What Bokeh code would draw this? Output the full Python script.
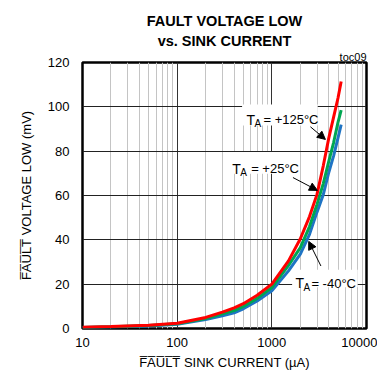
from bokeh.plotting import figure
from bokeh.models import Range1d, FixedTicker, Label, BoxAnnotation, Arrow, NormalHead, Title
from bokeh.embed import file_html
from bokeh.resources import INLINE

# sink current (uA)
current = [10, 20, 50, 100, 200, 300, 400, 500, 700, 1000, 1500, 2000, 2500, 3000, 3500, 4000, 4500, 5000, 5400]
# fault voltage low (mV)
v_125 = [0.6, 0.9, 1.5, 2.4, 5.0, 7.4, 9.3, 11.2, 15.0, 20.0, 30.5, 40.5, 50.5, 60.5, 73.5, 86.0, 95.5, 104.0, 111.4]
v_25 = [0.5, 0.8, 1.3, 2.1, 4.5, 6.6, 8.1, 10.0, 13.6, 18.5, 28.5, 36.5, 46.0, 56.0, 65.5, 75.5, 84.0, 93.0, 98.5]
v_m40 = [0.4, 0.7, 1.1, 1.9, 4.0, 5.7, 7.1, 8.9, 12.4, 17.0, 26.0, 33.5, 42.5, 52.5, 60.5, 70.5, 78.0, 86.0, 92.0]

y_ticks = [0, 20, 40, 60, 80, 100, 120]
x_ticks = [10, 100, 1000, 10000]
x_minor = [m * d for d in [10, 100, 1000] for m in range(2, 10)]

FONT = "Liberation Sans"
OL = "\u0305"
fault = "".join(c + OL for c in "FAULT")

p = figure(width=377, height=375, x_axis_type="log",
           x_range=Range1d(10, 10000), y_range=Range1d(0, 120),
           output_backend="svg", toolbar_location=None,
           min_border_left=82, min_border_right=11, min_border_top=62, min_border_bottom=47)
p.background_fill_color = "white"
p.border_fill_color = "white"
p.outline_line_color = "black"
p.outline_line_width = 2.5

# titles, stacked outward from the frame
p.add_layout(Title(text="toc09", align="right", text_font=FONT, text_font_size="11px",
                   text_font_style="normal", text_color="black", standoff=0), "above")
p.add_layout(Title(text="vs. SINK CURRENT", align="center", offset=6, text_font=FONT,
                   text_font_size="14.5px", text_font_style="bold", text_color="black",
                   standoff=0), "above")
p.add_layout(Title(text="FAULT VOLTAGE LOW", align="center", offset=6, text_font=FONT,
                   text_font_size="14.5px", text_font_style="bold", text_color="black",
                   standoff=4), "above")

p.xaxis.ticker = FixedTicker(ticks=x_ticks, minor_ticks=x_minor)
p.yaxis.ticker = FixedTicker(ticks=y_ticks)
p.xaxis.major_label_overrides = {10: "10", 100: "100", 1000: "1000", 10000: "10000"}

for ax in (p.xaxis, p.yaxis):
    ax.axis_line_color = None
    ax.major_tick_line_color = None
    ax.minor_tick_line_color = None
    ax.major_tick_out = 0
    ax.major_tick_in = 0
    ax.minor_tick_out = 0
    ax.minor_tick_in = 0
    ax.major_label_text_font = FONT
    ax.major_label_text_font_size = "13px"
    ax.major_label_text_color = "black"
    ax.axis_label_text_font = FONT
    ax.axis_label_text_font_size = "13px"
    ax.axis_label_text_font_style = "normal"
    ax.axis_label_text_color = "black"
p.xaxis.axis_label = fault + " SINK CURRENT (\u00b5A)"
p.yaxis.axis_label = fault + " VOLTAGE LOW (mV)"
p.xaxis.major_label_standoff = 9
p.xaxis.axis_label_standoff = 5
p.yaxis.major_label_standoff = 13
p.yaxis.axis_label_standoff = 11

p.xgrid.grid_line_color = "#333333"
p.xgrid.grid_line_width = 1
p.xgrid.minor_grid_line_color = "#c4c4c4"
p.xgrid.minor_grid_line_width = 1
p.ygrid.grid_line_color = "#222222"
p.ygrid.grid_line_width = 1

p.line(current, v_m40, line_color="#1f74c4", line_width=3)
p.line(current, v_25, line_color="#00a651", line_width=3)
p.line(current, v_125, line_color="#ff0000", line_width=3)

# label boxes
for l, r, b, t in [(485, 3052, 91.6, 101.1), (346, 1956, 69.8, 79.6), (1638, 8072, 18.6, 26.5)]:
    p.add_layout(BoxAnnotation(left=l, right=r, bottom=b, top=t, fill_color="white",
                               fill_alpha=1, line_color=None))

def temp_label(x, y, rest, eq_off):
    p.add_layout(Label(x=x, y=y, text="T", text_font=FONT, text_font_size="14px",
                       text_baseline="alphabetic", text_color="black"))
    p.add_layout(Label(x=x, y=y, x_offset=8, y_offset=-4, text="A", text_font=FONT,
                       text_font_size="10px", text_baseline="alphabetic", text_color="black"))
    p.add_layout(Label(x=x, y=y, x_offset=eq_off, text=rest, text_font=FONT,
                       text_font_size="13px", text_baseline="alphabetic", text_color="black"))

temp_label(539, 94.2, "= +125\u00b0C", 17)
temp_label(381, 72.1, "= +25\u00b0C", 19)
temp_label(1774, 20.4, "= -40\u00b0C", 16)

for xs, ys, xe, ye in [(2556, 91.0, 3681, 85.3), (1671, 68.1, 3030, 62.3), (3300, 28.2, 2453, 39.3)]:
    p.add_layout(Arrow(end=NormalHead(size=8, fill_color="black", line_color="black"),
                       x_start=xs, y_start=ys, x_end=xe, y_end=ye,
                       line_color="black", line_width=1))

open("out.html", "w").write(file_html(p, INLINE))
